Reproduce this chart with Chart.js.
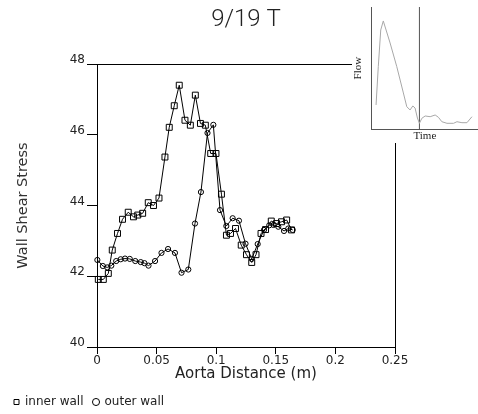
<!DOCTYPE html>
<html>
<head>
<meta charset="utf-8">
<script src="https://cdn.jsdelivr.net/npm/chart.js@4/dist/chart.umd.min.js"></script>
<style>
  html, body { margin:0; padding:0; background:#fff; }
  #wrap { position:relative; width:478px; height:414px; }
  #main { position:absolute; left:0; top:0; }
  #inset { position:absolute; left:352px; top:0; background:#fff; }
</style>
</head>
<body>
<div id="wrap">
  <canvas id="main" width="478" height="414"></canvas>
  <canvas id="inset" width="126" height="143"></canvas>
</div>
<script>
// ---- data ----
const innerX = [0.0011,0.0053,0.0095,0.0128,0.0172,0.0214,0.0262,0.0306,0.0342,0.0383,0.0430,0.0474,0.0520,0.0570,0.0606,0.0648,0.0690,0.0738,0.0783,0.0825,0.0868,0.0909,0.0954,0.0998,0.1044,0.1086,0.1120,0.1162,0.1210,0.1254,0.1298,0.1334,0.1376,0.1414,0.1462,0.1506,0.1548,0.1591,0.1632];
const innerY = [41.91,41.91,42.08,42.74,43.21,43.61,43.81,43.68,43.73,43.78,44.08,44.00,44.21,45.37,46.21,46.82,47.40,46.41,46.27,47.12,46.32,46.27,45.47,45.47,44.32,43.16,43.21,43.35,42.88,42.61,42.39,42.61,43.21,43.32,43.56,43.49,43.54,43.59,43.31];
const outerX = [0.0003,0.0049,0.0086,0.0120,0.0161,0.0199,0.0235,0.0275,0.0321,0.0367,0.0398,0.0432,0.0487,0.0541,0.0596,0.0654,0.0709,0.0766,0.0822,0.0872,0.0927,0.0976,0.1032,0.1085,0.1138,0.1191,0.1246,0.1298,0.1348,0.1401,0.1445,0.1481,0.1521,0.1569,0.1605,0.1642];
const outerY = [42.46,42.29,42.25,42.30,42.43,42.48,42.50,42.49,42.43,42.40,42.37,42.30,42.43,42.66,42.77,42.66,42.10,42.19,43.49,44.38,46.05,46.28,43.87,43.42,43.64,43.57,42.92,42.49,42.91,43.31,43.44,43.45,43.40,43.28,43.35,43.31];
const xTickLabels = ['0','0.05','0.1','0.15','0.2','0.25'];
const yTickLabels = ['40','42','44','46','48'];
const seriesNames = ['inner wall','outer wall'];

// inset (flow waveform, normalised units)
const flowTime  = [0.041,0.062,0.085,0.109,0.173,0.236,0.298,0.330,0.361,0.387,0.408,0.430,0.449,0.472,0.503,0.550,0.597,0.628,0.660,0.708,0.770,0.802,0.849,0.896,0.943];
const flowValue = [0.199,0.512,0.812,0.886,0.706,0.512,0.297,0.185,0.158,0.191,0.174,0.092,0.049,0.090,0.109,0.103,0.117,0.098,0.062,0.049,0.049,0.062,0.054,0.054,0.103];
const markerTime = [0.449, 0.449];
const markerFlow = [0, 1];

const FONT = 'DejaVu Sans';
const TXT = '#222';

const framePlugin = {
  id: 'frame',
  afterDatasetsDraw(chart) {
    const {ctx, chartArea: a} = chart;
    ctx.save();
    ctx.strokeStyle = '#000';
    ctx.lineWidth = 1;
    ctx.beginPath();
    ctx.moveTo(a.left, Math.round(a.top) + 0.5);
    ctx.lineTo(Math.round(a.right) + 0.5, Math.round(a.top) + 0.5);
    ctx.lineTo(Math.round(a.right) + 0.5, a.bottom);
    ctx.stroke();
    ctx.restore();
  }
};

new Chart(document.getElementById('main'), {
  type: 'line',
  data: {
    datasets: [
      {
        label: seriesNames[0],
        data: innerX.map((x, i) => ({x, y: innerY[i]})),
        borderColor: '#000', backgroundColor: 'rgba(0,0,0,0)', borderWidth: 1,
        pointStyle: 'rect', pointRadius: 4.2, pointBorderColor: '#000',
        pointBackgroundColor: 'rgba(0,0,0,0)', pointBorderWidth: 1,
        tension: 0, clip: false
      },
      {
        label: seriesNames[1],
        data: outerX.map((x, i) => ({x, y: outerY[i]})),
        borderColor: '#000', backgroundColor: 'rgba(0,0,0,0)', borderWidth: 1,
        pointStyle: 'circle', pointRadius: 2.6, pointBorderColor: '#000',
        pointBackgroundColor: 'rgba(0,0,0,0)', pointBorderWidth: 1,
        tension: 0, clip: false
      }
    ]
  },
  options: {
    responsive: false, animation: false, devicePixelRatio: 1,
    layout: { padding: { top: 0, left: 4, right: 83, bottom: -4 } },
    plugins: {
      tooltip: { enabled: false },
      title: {
        display: true, text: '9/19 T', fullSize: false, color: '#222',
        font: { family: 'Roboto', size: 24, weight: 300 },
        padding: { top: 5.6, bottom: 29.6 }
      },
      legend: {
        position: 'bottom', align: 'start',
        labels: {
          usePointStyle: true, boxWidth: 5, boxHeight: 5, padding: 10,
          color: TXT, font: { family: FONT, size: 12 }
        }
      }
    },
    scales: {
      x: {
        type: 'linear', min: 0, max: 0.25,
        ticks: {
          stepSize: 0.05, padding: 0, color: TXT, font: { family: FONT, size: 12 },
          callback: (v, i) => xTickLabels[i]
        },
        grid: { display: true, drawOnChartArea: false, drawTicks: true, tickLength: 7, color: '#000' },
        border: { display: true, color: '#000', width: 1 },
        title: { display: true, text: 'Aorta Distance (m)', color: TXT,
                 font: { family: FONT, size: 15 }, padding: { top: 0, bottom: 3 } },
        afterFit: s => { s.height = 39; }
      },
      y: {
        type: 'linear', min: 40, max: 48,
        ticks: {
          stepSize: 2, padding: 2, labelOffset: -4, color: TXT, font: { family: FONT, size: 12 },
          callback: (v, i) => yTickLabels[i]
        },
        grid: { display: true, drawOnChartArea: false, drawTicks: true, tickLength: 10, color: '#000' },
        border: { display: true, color: '#000', width: 1 },
        title: { display: true, text: 'Wall Shear Stress', color: '#333',
                 font: { family: FONT, size: 14.5 }, padding: { top: 10.3, bottom: 0 } },
        afterFit: s => { s.width = 93; }
      }
    }
  },
  plugins: [framePlugin]
});

new Chart(document.getElementById('inset'), {
  type: 'line',
  data: {
    datasets: [
      {
        data: flowTime.map((t, i) => ({x: t, y: flowValue[i]})),
        borderColor: '#a8a8a8', borderWidth: 1, pointRadius: 0, tension: 0, fill: false
      },
      {
        data: markerTime.map((t, i) => ({x: t, y: markerFlow[i]})),
        borderColor: '#555', borderWidth: 1, pointRadius: 0, tension: 0, fill: false
      }
    ]
  },
  options: {
    responsive: false, animation: false, devicePixelRatio: 1,
    layout: { padding: { top: 7, left: 0, right: 0, bottom: 0 } },
    plugins: { legend: { display: false }, tooltip: { enabled: false }, title: { display: false } },
    scales: {
      x: {
        type: 'linear', min: 0, max: 1,
        ticks: { display: false }, grid: { display: false, drawTicks: false },
        border: { display: true, color: '#555', width: 1 },
        title: { display: true, text: 'Time', color: '#222',
                 font: { family: 'Liberation Serif', size: 11 }, padding: 0 },
        afterFit: s => { s.height = 13.7; }
      },
      y: {
        type: 'linear', min: 0, max: 1,
        ticks: { display: false }, grid: { display: false, drawTicks: false },
        border: { display: true, color: '#555', width: 1 },
        title: { display: true, text: 'Flow', color: '#222',
                 font: { family: 'Liberation Serif', size: 11 }, padding: 0 },
        afterFit: s => { s.width = 19.7; }
      }
    }
  }
});
</script>
</body>
</html>
